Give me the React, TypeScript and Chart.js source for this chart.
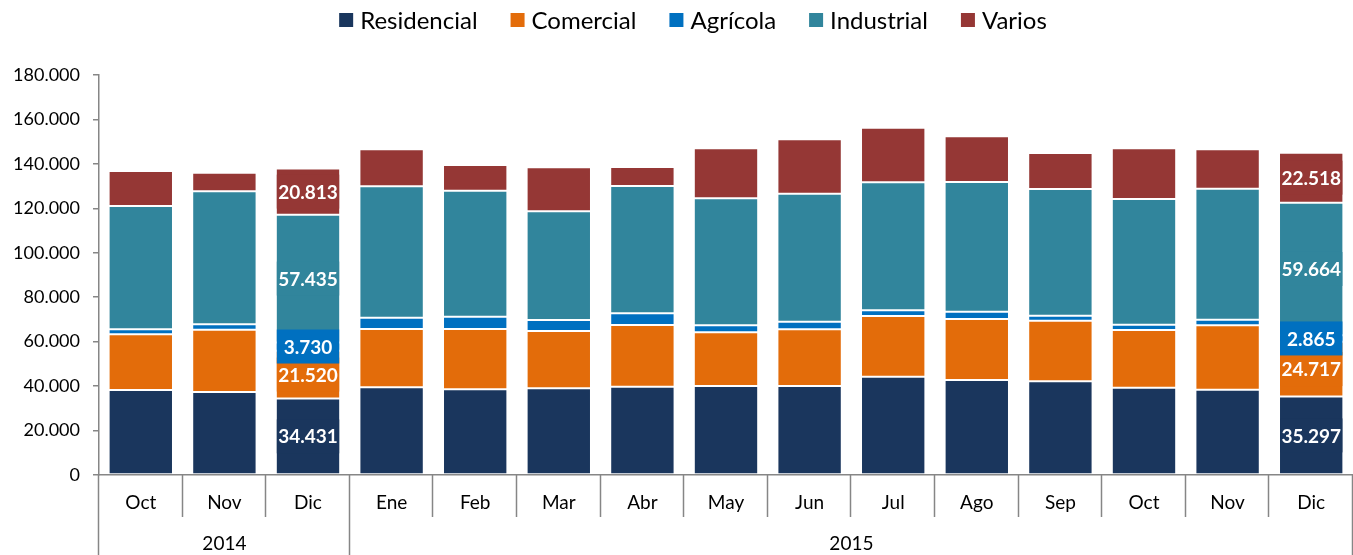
import React, { useEffect, useRef } from "react";
import { Chart, registerables } from "chart.js";

Chart.register(...registerables);

const months = ["Oct", "Nov", "Dic", "Ene", "Feb", "Mar", "Abr", "May", "Jun", "Jul", "Ago", "Sep", "Oct", "Nov", "Dic"];
const years = ["2014", "2015"];
const yearSpans = [3, 12];

const seriesNames = ["Residencial", "Comercial", "Agrícola", "Industrial", "Varios"];
const seriesColors = ["#1A365D", "#E36C0A", "#0070C0", "#31859C", "#953735"];

const residencial = [38250, 37350, 34431, 39450, 38550, 39000, 39750, 40050, 40050, 44250, 42750, 42150, 39300, 38400, 35297];
const comercial = [25050, 28050, 21520, 26250, 27150, 25800, 27750, 24150, 25500, 27300, 27450, 27300, 25950, 28950, 24717];
const agricola = [2250, 2400, 3730, 5100, 5550, 4950, 5250, 3150, 3450, 2550, 3300, 2250, 2400, 2550, 2865];
const industrial = [55500, 59850, 57435, 59100, 56700, 48900, 57300, 57150, 57600, 57600, 58350, 57000, 56550, 58950, 59664];
const varios = [15750, 8400, 20813, 16650, 11550, 19800, 8550, 22500, 24450, 24600, 20550, 16200, 22800, 17700, 22518];

const seriesValues = [residencial, comercial, agricola, industrial, varios];
const labeledIndexes = [2, 14];

const yMin = 0;
const yMax = 180000;
const yStep = 20000;

const FONT = "Lato, 'Open Sans', sans-serif";

function fmt(v: number): string {
  return String(Math.round(v)).replace(/\B(?=(\d{3})+(?!\d))/g, ".");
}

const legendPlugin = {
  id: "customLegend",
  afterDraw(chart: any) {
    const ctx = chart.ctx;
    ctx.save();
    ctx.font = `24px ${FONT}`;
    const box = 14;
    const boxGap = 7;
    const itemGap = 33;
    const widths = seriesNames.map((n) => ctx.measureText(n).width);
    const total = widths.reduce((a, w) => a + box + boxGap + w, 0) + itemGap * (seriesNames.length - 1);
    let x = 693 - total / 2;
    const yc = 20;
    seriesNames.forEach((n, i) => {
      ctx.fillStyle = seriesColors[i];
      ctx.fillRect(x, yc - box / 2, box, box);
      ctx.fillStyle = "#000";
      ctx.textBaseline = "middle";
      ctx.textAlign = "left";
      ctx.fillText(n, x + box + boxGap, yc + 1);
      x += box + boxGap + widths[i] + itemGap;
    });
    ctx.restore();
  },
};

const axisGroupPlugin = {
  id: "axisGroups",
  afterDraw(chart: any) {
    const ctx = chart.ctx;
    const area = chart.chartArea;
    const n = months.length;
    const cw = (area.right - area.left) / n;
    const bottom = chart.height;
    ctx.save();
    ctx.strokeStyle = "#868686";
    ctx.lineWidth = 1.5;
    const groupBounds = new Set<number>();
    let acc = 0;
    groupBounds.add(0);
    yearSpans.forEach((s) => {
      acc += s;
      groupBounds.add(acc);
    });
    for (let i = 0; i <= n; i++) {
      const x = Math.round(area.left + i * cw) - 0.5;
      ctx.beginPath();
      ctx.moveTo(x, area.bottom);
      ctx.lineTo(x, groupBounds.has(i) ? bottom : area.bottom + 42);
      ctx.stroke();
    }
    ctx.fillStyle = "#000";
    ctx.font = `19px ${FONT}`;
    ctx.textAlign = "center";
    ctx.textBaseline = "middle";
    let start = 0;
    years.forEach((y, gi) => {
      const end = start + yearSpans[gi];
      const cx = area.left + ((start + end) / 2) * cw;
      ctx.fillText(y, cx, area.bottom + 69);
      start = end;
    });
    ctx.restore();
  },
};

const dataLabelPlugin = {
  id: "dataLabels",
  afterDatasetsDraw(chart: any) {
    const ctx = chart.ctx;
    ctx.save();
    ctx.font = `bold 19px ${FONT}`;
    ctx.textAlign = "center";
    ctx.textBaseline = "middle";
    const boxH = 34;
    chart.data.datasets.forEach((ds: any, di: number) => {
      const meta = chart.getDatasetMeta(di);
      labeledIndexes.forEach((idx) => {
        const el: any = meta.data[idx];
        if (!el) return;
        const cy = (el.y + el.base) / 2;
        ctx.fillStyle = ds.backgroundColor;
        ctx.fillRect(el.x - el.width / 2 + 1, cy - boxH / 2, el.width - 2, boxH);
        ctx.fillStyle = "#fff";
        ctx.fillText(fmt(ds.data[idx]), el.x, cy + 1);
      });
    });
    ctx.restore();
  },
};

export default function App() {
  const ref = useRef<HTMLCanvasElement | null>(null);

  useEffect(() => {
    document.body.style.margin = "0";
    const canvas = ref.current;
    if (!canvas) return;
    const chart = new Chart(canvas, {
      type: "bar",
      data: {
        labels: months,
        datasets: seriesNames.map((name, i) => ({
          label: name,
          data: seriesValues[i],
          backgroundColor: seriesColors[i],
          borderColor: "rgba(255,255,255,0.35)",
          borderWidth: 1,
          borderSkipped: false,
          barPercentage: 0.77,
          categoryPercentage: 1,
        })),
      },
      options: {
        responsive: false,
        animation: false,
        devicePixelRatio: 1,
        layout: { padding: { top: 75, left: 0, right: 0, bottom: 0 } },
        plugins: {
          legend: { display: false },
          tooltip: { enabled: false },
        },
        scales: {
          x: {
            stacked: true,
            grid: { display: false },
            border: { display: true, color: "#868686", width: 1.5 },
            ticks: {
              color: "#000",
              font: { family: FONT, size: 19 },
              padding: 8,
              maxRotation: 0,
              autoSkip: false,
            },
            afterFit(scale: any) {
              scale.height = 80;
            },
          },
          y: {
            stacked: true,
            min: yMin,
            max: yMax,
            grid: {
              display: true,
              drawOnChartArea: false,
              drawTicks: true,
              tickLength: 6,
              color: "#868686",
              lineWidth: 1.5,
            },
            border: { display: true, color: "#868686", width: 1.5 },
            ticks: {
              stepSize: yStep,
              color: "#000",
              font: { family: FONT, size: 18 },
              padding: 13,
              callback: (v: any) => fmt(Number(v)),
            },
            afterFit(scale: any) {
              scale.width = 99;
            },
          },
        },
      },
      plugins: [legendPlugin, axisGroupPlugin, dataLabelPlugin],
    });
    return () => chart.destroy();
  }, []);

  return (
    <div style={{ width: 1353, height: 555 }}>
      <canvas ref={ref} width={1353} height={555} style={{ display: "block" }} />
    </div>
  );
}
